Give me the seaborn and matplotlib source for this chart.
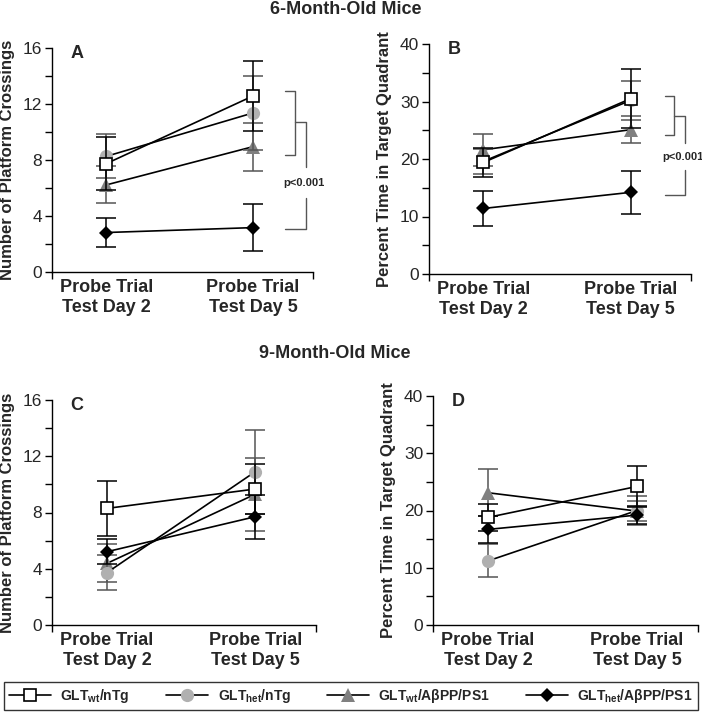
import matplotlib
matplotlib.use("Agg")
import matplotlib.pyplot as plt
from matplotlib.lines import Line2D
import seaborn as sns

# x positions of the two probe trials and their tick labels
DAYS = [0, 1]
DAY_LABELS = ["Probe Trial\nTest Day 2", "Probe Trial\nTest Day 5"]

GROUPS = ["wt_ntg", "het_ntg", "wt_app", "het_app"]
GROUP_LABELS = [
    "GLT$_\\mathregular{wt}$/nTg",
    "GLT$_\\mathregular{het}$/nTg",
    "GLT$_\\mathregular{wt}$/A\u03b2PP/PS1",
    "GLT$_\\mathregular{het}$/A\u03b2PP/PS1",
]

# A: platform crossings, 6 months
A_MEAN = {"wt_ntg": [7.74, 12.57], "het_ntg": [8.26, 11.36], "wt_app": [6.22, 8.95], "het_app": [2.82, 3.17]}
A_SEM = {"wt_ntg": [1.9, 2.48], "het_ntg": [1.57, 2.62], "wt_app": [1.32, 1.72], "het_app": [1.06, 1.68]}

# B: % time in target quadrant, 6 months
B_MEAN = {"wt_ntg": [19.4, 30.5], "het_ntg": [19.6, 30.2], "wt_app": [21.6, 25.1], "het_app": [11.4, 14.2]}
B_SEM = {"wt_ntg": [2.6, 5.1], "het_ntg": [2.2, 3.4], "wt_app": [2.8, 2.4], "het_app": [3.1, 3.8]}

# C: platform crossings, 9 months
C_MEAN = {"wt_ntg": [8.29, 9.67], "het_ntg": [3.72, 10.9], "wt_app": [4.38, 9.3], "het_app": [5.21, 7.7]}
C_SEM = {"wt_ntg": [1.95, 1.75], "het_ntg": [1.26, 3.0], "wt_app": [1.35, 2.6], "het_app": [0.9, 1.55]}

# D: % time in target quadrant, 9 months
D_MEAN = {"wt_ntg": [18.8, 24.2], "het_ntg": [11.2, 20.0], "wt_app": [23.1, 19.9], "het_app": [16.7, 19.2]}
D_SEM = {"wt_ntg": [2.4, 3.6], "het_ntg": [2.9, 2.6], "wt_app": [4.1, 1.8], "het_app": [2.3, 1.5]}

STYLE = {
    "wt_ntg": dict(marker="s", ms=9, markerfacecolor="white", markeredgecolor="black", markeredgewidth=1.2, z=6, ecolor="black"),
    "het_ntg": dict(marker="o", ms=9.5, markerfacecolor="#b0b0b0", markeredgecolor="#b0b0b0", markeredgewidth=0, z=4, ecolor="#555555"),
    "wt_app": dict(marker="^", ms=9.5, markerfacecolor="#808080", markeredgecolor="#808080", markeredgewidth=0, z=3, ecolor="#555555"),
    "het_app": dict(marker="D", ms=7.5, markerfacecolor="black", markeredgecolor="black", markeredgewidth=0, z=5, ecolor="black"),
}

sns.set_theme(style="ticks")
plt.rcParams["font.family"] = ["Liberation Sans", "DejaVu Sans"]
plt.rcParams["mathtext.fontset"] = "custom"
plt.rcParams["mathtext.rm"] = "Liberation Sans"

W, H = 702, 714
fig = plt.figure(figsize=(W / 100, H / 100), dpi=100)


def px_axes(left, right, top, bottom):
    return fig.add_axes([left / W, (H - bottom) / H, (right - left) / W, (bottom - top) / H])


def draw_panel(ax, means, sems, ymax, major, minor, ylabel, letter):
    for g in GROUPS:
        st = STYLE[g]
        ax.errorbar(DAYS, means[g], yerr=sems[g], fmt="none", ecolor=st["ecolor"],
                    elinewidth=1.1, capsize=7, capthick=1.1, zorder=st["z"] - 0.5, clip_on=False)
        sns.lineplot(x=DAYS, y=means[g], ax=ax, color="black", linewidth=1.2,
                     marker=st["marker"], markersize=st["ms"],
                     markerfacecolor=st["markerfacecolor"], markeredgecolor=st["markeredgecolor"],
                     markeredgewidth=st["markeredgewidth"], zorder=st["z"], clip_on=False)
    ax.set_xlim(-0.37, 1.41)
    ax.set_ylim(0, ymax)
    ax.set_yticks(major)
    ax.set_yticks(minor, minor=True)
    ax.set_xticks(DAYS)
    ax.set_xticklabels(DAY_LABELS, fontsize=13, fontweight="bold")
    ax.set_xticks([-0.37, 1.41], minor=True)
    ax.tick_params(axis="x", which="major", length=0, pad=5)
    ax.tick_params(axis="x", which="minor", length=5, width=1, color="black", direction="out")
    ax.tick_params(axis="y", which="both", length=5, width=1, color="black", direction="out",
                   labelsize=12.5, pad=2)
    for side in ["top", "right"]:
        ax.spines[side].set_visible(False)
    for side in ["left", "bottom"]:
        ax.spines[side].set_color("black")
        ax.spines[side].set_linewidth(1)
    ax.set_ylabel(ylabel, fontsize=12, fontweight="bold")
    ax.yaxis.set_label_coords(-0.14, 0.5)
    ax.set_xlabel("")
    ax.text(0.07, 0.975, letter, transform=ax.transAxes, fontsize=13, fontweight="bold",
            va="center", ha="left")
    ax.patch.set_alpha(0)


def draw_bracket(ax, x0, x1, x2, inner, outer, text_y, gap):
    kw = dict(color="#555555", linewidth=1, clip_on=False)
    ax.plot([x0, x1, x1, x0], [inner[0], inner[0], inner[1], inner[1]], **kw)
    ax.plot([x1, x2, x2], [outer[0], outer[0], gap[0]], **kw)
    ax.plot([x2, x2, x0], [gap[1], outer[1], outer[1]], **kw)
    ax.text(x2 - 0.015, text_y, "p<0.001", fontsize=8, fontweight="bold",
            ha="center", va="center", clip_on=False)


ax_a = px_axes(52, 313, 48, 272)
draw_panel(ax_a, A_MEAN, A_SEM, 16, [0, 4, 8, 12, 16], [2, 6, 10, 14],
           "Number of Platform Crossings", "A")
draw_bracket(ax_a, 1.22, 1.29, 1.365, (12.95, 8.33), (10.7, 3.05), 6.35, (7.5, 5.3))

ax_b = px_axes(429, 691, 44, 274)
draw_panel(ax_b, B_MEAN, B_SEM, 40, [0, 10, 20, 30, 40], [5, 15, 25, 35],
           "Percent Time in Target Quadrant", "B")
draw_bracket(ax_b, 1.235, 1.292, 1.368, (30.9, 24.1), (27.5, 13.8), 20.4, (22.8, 18.1))

ax_c = px_axes(52, 316, 400, 625)
draw_panel(ax_c, C_MEAN, C_SEM, 16, [0, 4, 8, 12, 16], [2, 6, 10, 14],
           "Number of Platform Crossings", "C")

ax_d = px_axes(433, 698, 396, 625)
draw_panel(ax_d, D_MEAN, D_SEM, 40, [0, 10, 20, 30, 40], [5, 15, 25, 35],
           "Percent Time in Target Quadrant", "D")

fig.text(346 / W, 1 - 10 / H, "6-Month-Old Mice", fontsize=13, fontweight="bold", ha="center", va="center")
fig.text(335 / W, 1 - 353 / H, "9-Month-Old Mice", fontsize=13, fontweight="bold", ha="center", va="center")

handles = []
for g in GROUPS:
    st = STYLE[g]
    handles.append(Line2D([], [], color="black", linewidth=1.2, marker=st["marker"],
                          markersize=st["ms"],
                          markerfacecolor=st["markerfacecolor"], markeredgecolor=st["markeredgecolor"],
                          markeredgewidth=st["markeredgewidth"]))
leg = fig.legend(handles, GROUP_LABELS, loc="lower center", bbox_to_anchor=(0.5, 4 / H), ncol=4,
                 frameon=True, fancybox=False, edgecolor="black", handlelength=3,
                 handletextpad=0.7, columnspacing=2.6, borderpad=0.35, borderaxespad=0,
                 prop={"size": 10, "weight": "bold"})
leg.get_frame().set_linewidth(1)

fig.savefig("out.png", dpi=100)
